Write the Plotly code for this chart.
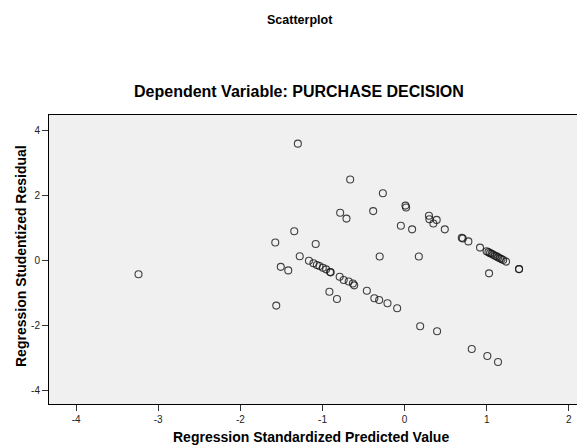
import plotly.graph_objects as go

# Regression Standardized Predicted Value
pred = [-3.24, -1.30, -0.663, -0.265, 0.010, 0.018, -0.383, -0.785, -0.708, -0.046,
        0.091, 0.296, 0.302, 0.350, 0.390, 0.489, 0.696, 0.708, 0.776,
        0.918, 0.998, 1.02, 1.04, 1.06, 1.08, 1.10, 1.12, 1.14, 1.16, 1.18, 1.20, 1.235,
        1.028, 1.393, 1.393,
        -1.344, -1.575, -1.083, -1.277, -0.304, 0.173, -1.508, -1.417, -1.563,
        -1.165, -1.110, -1.069, -1.037, -0.996, -0.956, -0.908, -0.900,
        -0.791, -0.742, -0.681, -0.630, -0.614,
        -0.916, -0.824, -0.460, -0.369, -0.310, -0.209, -0.091, 0.189, 0.395,
        0.817, 1.007, 1.137]

# Regression Studentized Residual
resid = [-0.42, 3.59, 2.49, 2.07, 1.69, 1.63, 1.52, 1.47, 1.29, 1.07,
         0.96, 1.38, 1.27, 1.14, 1.25, 0.96, 0.70, 0.68, 0.59,
         0.40, 0.29, 0.26, 0.23, 0.21, 0.18, 0.15, 0.13, 0.10, 0.07, 0.05, 0.02, -0.03,
         -0.39, -0.26, -0.26,
         0.90, 0.555, 0.51, 0.135, 0.126, 0.126, -0.19, -0.30, -1.38,
         -0.003, -0.082, -0.135, -0.166, -0.218, -0.267, -0.351, -0.359,
         -0.494, -0.595, -0.641, -0.702, -0.758,
         -0.954, -1.178, -0.926, -1.156, -1.209, -1.31, -1.463, -2.015, -2.169,
         -2.712, -2.926, -3.11]

x_ticks = [-4, -3, -2, -1, 0, 1, 2]
y_ticks = [-4, -2, 0, 2, 4]

title_main = "Scatterplot"
title_sub = "Dependent Variable: PURCHASE DECISION"
x_title = "Regression Standardized Predicted Value"
y_title = "Regression Studentized Residual"

# page is 585x448; the body has an 8px default margin, so the figure is offset
OFF = 8
W, H = 585 - OFF, 448 - OFF
# plot area in page pixels
L, R, T, B = 49, 585, 115, 404


def px(x):
    return (x - L) / (R - L)


def py(y):
    return (B - y) / (B - T)


fig = go.Figure(go.Scatter(
    x=pred, y=resid, mode="markers",
    marker=dict(symbol="circle-open", size=7,
                line=dict(width=1.1), color="rgba(20,20,20,0.8)"),
    hoverinfo="x+y", showlegend=False))

font_family = "Liberation Sans, Arial, sans-serif"

fig.update_layout(
    width=W, height=H,
    margin=dict(l=L - OFF, r=(W + OFF) - R, t=T - OFF, b=(H + OFF) - B, pad=0),
    paper_bgcolor="white",
    plot_bgcolor="#F0F0F0",
    font=dict(family=font_family, color="black", size=10),
    xaxis=dict(range=[-4.33, 2.196], tickvals=x_ticks, ticktext=[str(v) for v in x_ticks],
               showgrid=False, zeroline=False, showline=True, linecolor="black",
               linewidth=1, mirror=True, ticks="outside", ticklen=6, tickcolor="#333",
               tickfont=dict(size=10, color="#222")),
    yaxis=dict(range=[-4.40, 4.47], tickvals=y_ticks, ticktext=[str(v) for v in y_ticks],
               showgrid=False, zeroline=False, showline=True, linecolor="black",
               linewidth=1, ticks="outside", ticklen=6, tickcolor="#333",
               tickfont=dict(size=10, color="#222")),
    annotations=[
        dict(text="<b>%s</b>" % title_main, x=px(300), y=py(20), xref="paper", yref="paper",
             showarrow=False, font=dict(size=12.5, family=font_family), xanchor="center", yanchor="middle"),
        dict(text="<b>%s</b>" % title_sub, x=px(299), y=py(91), xref="paper", yref="paper",
             showarrow=False, font=dict(size=16, family=font_family), xanchor="center", yanchor="middle"),
        dict(text="<b>%s</b>" % x_title, x=px(311), y=py(437), xref="paper", yref="paper",
             showarrow=False, font=dict(size=14, family=font_family), xanchor="center", yanchor="middle"),
        dict(text="<b>%s</b>" % y_title, x=px(21), y=py(256), xref="paper", yref="paper",
             showarrow=False, textangle=-90, font=dict(size=14, family=font_family),
             xanchor="center", yanchor="middle"),
    ],
)

fig.write_html("out.html")
